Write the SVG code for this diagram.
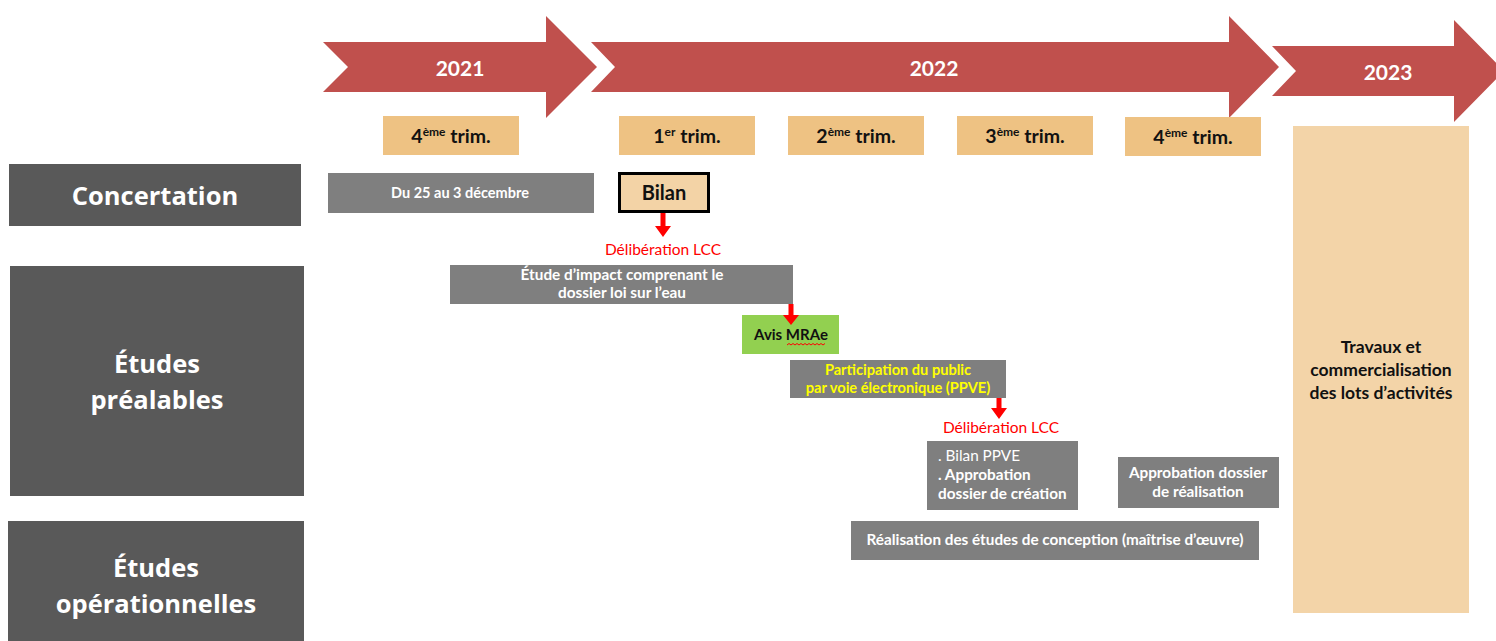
<svg xmlns="http://www.w3.org/2000/svg" width="1496" height="641" viewBox="0 0 1496 641">
<style>
.yr{fill:#C0504D}
.yt{font-family:Lato,"Liberation Sans",sans-serif;font-weight:bold;font-size:21px;fill:#fff;text-anchor:middle}
.trim{fill:#EEC283}
.tt{font-family:Lato,"Liberation Sans",sans-serif;font-weight:bold;font-size:19.5px;fill:#111;text-anchor:middle}
.sup{font-size:12px}
.lab{fill:#595959}
.lt{font-family:"Open Sans","Liberation Sans",sans-serif;font-weight:bold;font-size:25.5px;fill:#fff;text-anchor:middle}
.gb{fill:#7F7F7F}
.gt{font-family:Lato,"Liberation Sans",sans-serif;font-weight:bold;font-size:15.3px;fill:#fff;text-anchor:middle}
.red{font-family:Lato,"Liberation Sans",sans-serif;font-size:15.5px;fill:#FF0000;text-anchor:middle}
.arr{fill:#FF0000}
.bt{font-family:Lato,"Liberation Sans",sans-serif;font-weight:bold;font-size:15px;fill:#111;text-anchor:middle}
</style>
<rect width="1496" height="641" fill="#fff"/>
<g id="year-2021"><polygon class="yr" points="323,42 546,42 546,16 597,67 546,118 546,92 323,92 348,67"/><text class="yt" x="460" y="76">2021</text></g>
<g id="year-2022"><polygon class="yr" points="591,42 1229,42 1229,16 1279,67 1229,118 1229,92 591,92 615,67"/><text class="yt" x="934" y="76">2022</text></g>
<g id="year-2023"><polygon class="yr" points="1272,46 1454,46 1454,20 1504,71 1454,122 1454,96 1272,96 1296,71"/><text class="yt" x="1388" y="80">2023</text></g>
<g id="q4-2021"><rect class="trim" x="383" y="116" width="136" height="39"/><text class="tt" x="451" y="143">4<tspan class="sup" dy="-7">ème</tspan><tspan dy="7"> trim.</tspan></text></g>
<g id="q1-2022"><rect class="trim" x="619" y="116" width="136" height="39"/><text class="tt" x="687" y="143">1<tspan class="sup" dy="-7">er</tspan><tspan dy="7"> trim.</tspan></text></g>
<g id="q2-2022"><rect class="trim" x="788" y="116" width="136" height="39"/><text class="tt" x="856" y="143">2<tspan class="sup" dy="-7">ème</tspan><tspan dy="7"> trim.</tspan></text></g>
<g id="q3-2022"><rect class="trim" x="957" y="116" width="136" height="39"/><text class="tt" x="1025" y="143">3<tspan class="sup" dy="-7">ème</tspan><tspan dy="7"> trim.</tspan></text></g>
<g id="q4-2022"><rect class="trim" x="1125" y="117" width="136" height="39"/><text class="tt" x="1193" y="144">4<tspan class="sup" dy="-7">ème</tspan><tspan dy="7"> trim.</tspan></text></g>
<g id="lab-concertation"><rect class="lab" x="9" y="164" width="292" height="62"/><text class="lt" x="155" y="205">Concertation</text></g>
<g id="lab-prealables"><rect class="lab" x="10" y="266" width="294" height="230"/><text class="lt" x="157" y="373">Études</text><text class="lt" x="157" y="409">préalables</text></g>
<g id="lab-operationnelles"><rect class="lab" x="8" y="521" width="296" height="125"/><text class="lt" x="156" y="577">Études</text><text class="lt" x="156" y="613">opérationnelles</text></g>
<g id="concertation-dates"><rect class="gb" x="328" y="173" width="266" height="40"/><text class="gt" x="460" y="198" style="font-size:14.5px">Du 25 au 3 décembre</text></g>
<g id="bilan"><rect x="619.5" y="173.5" width="89" height="38" fill="#F3D3A6" stroke="#000" stroke-width="3"/><text class="bt" x="664" y="200" style="font-size:20px">Bilan</text></g>
<g id="deliberation-1"><text class="red" x="663" y="255">Délibération LCC</text></g>
<g id="etude-impact"><rect class="gb" x="450" y="265" width="343" height="39"/><text class="gt" x="622" y="280">Étude d’impact comprenant le</text><text class="gt" x="622" y="298">dossier loi sur l’eau</text></g>
<g id="avis-mrae"><rect x="742" y="315" width="97" height="39" fill="#92D050"/><text class="bt" x="791" y="340">Avis MRAe</text><path d="M787,345 l2,-1.5 l2,1.5 l2,-1.5 l2,1.5 l2,-1.5 l2,1.5 l2,-1.5 l2,1.5 l2,-1.5 l2,1.5 l2,-1.5 l2,1.5 l2,-1.5 l2,1.5 l2,-1.5 l2,1.5 l2,-1.5 l2,1.5 l2,-1.5" fill="none" stroke="#FF0000" stroke-width="1"/></g>
<g id="ppve"><rect class="gb" x="790" y="360" width="216" height="38"/><text class="gt" x="898" y="375" style="fill:#FFFF00;font-size:14.6px">Participation du public</text><text class="gt" x="898" y="393" style="fill:#FFFF00;font-size:14.6px">par voie électronique (PPVE)</text></g>
<g id="deliberation-2"><text class="red" x="1001" y="433">Délibération LCC</text></g>
<g id="bilan-ppve"><rect class="gb" x="927" y="441" width="151" height="69"/><text class="gt" x="938" y="461" style="text-anchor:start;font-weight:normal">. Bilan PPVE</text><text class="gt" x="938" y="480" style="text-anchor:start">. Approbation</text><text class="gt" x="938" y="499" style="text-anchor:start">dossier de création</text></g>
<g id="approbation-realisation"><rect class="gb" x="1118" y="457" width="161" height="51"/><text class="gt" x="1198" y="478">Approbation dossier</text><text class="gt" x="1198" y="497">de réalisation</text></g>
<g id="etudes-conception"><rect class="gb" x="851" y="521" width="408" height="39"/><text class="gt" x="1055" y="545">Réalisation des études de conception (maîtrise d’œuvre)</text></g>
<g id="travaux"><rect x="1293" y="126" width="176" height="487" fill="#F3D4A8"/><text class="bt" x="1381" y="353" style="font-size:17.5px">Travaux et</text><text class="bt" x="1381" y="376" style="font-size:17.5px">commercialisation</text><text class="bt" x="1381" y="399" style="font-size:17.5px">des lots d’activités</text></g>
<g id="connectors">
<polygon class="arr" points="660.5,213 665.5,213 665.5,226 671,226 663,237 655,226 660.5,226"/>
<polygon class="arr" points="788.5,304 793.5,304 793.5,315 799,315 791,325 783,315 788.5,315"/>
<polygon class="arr" points="996.5,398 1001.5,398 1001.5,408 1007,408 999,419 991,408 996.5,408"/>
</g>
</svg>
